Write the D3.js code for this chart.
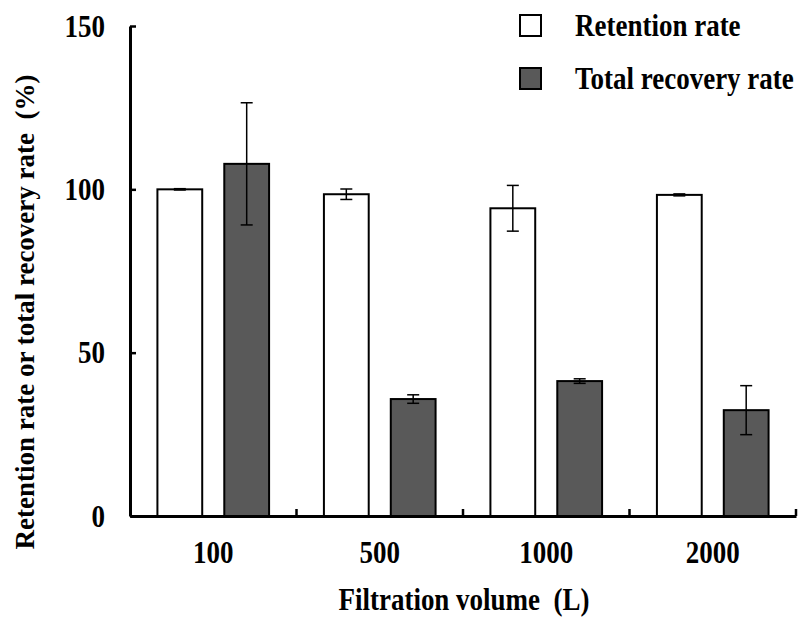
<!DOCTYPE html>
<html>
<head>
<meta charset="utf-8">
<script src="https://cdn.jsdelivr.net/npm/d3@7"></script>
<style>
  body { margin: 0; background: #fff; }
  text { font-family: "Times New Roman", "Liberation Serif", serif; font-weight: bold; white-space: pre; }
</style>
</head>
<body>
<div id="chart"></div>
<script>
// data
const volumes = ["100", "500", "1000", "2000"];
const seriesNames = ["Retention rate", "Total recovery rate"];
const retentionRate = [100, 98.5, 94.2, 98.3];
const retentionErr = [0.2, 1.6, 7.0, 0.3];
const recoveryRate = [107.8, 35.8, 41.3, 32.4];
const recoveryErr = [18.7, 1.3, 0.7, 7.5];
const yTicks = [0, 50, 100, 150];

const W = 808, H = 619;
const margin = { top: 26, right: 12, bottom: 103, left: 130 };
const colors = ["#ffffff", "#595959"];
const stretch = "scale(1,1.15)"; // reference type is a bit taller than normal

const svg = d3.select("#chart").append("svg")
  .attr("width", W)
  .attr("height", H);

const x = d3.scaleBand()
  .domain(volumes)
  .range([margin.left, 796])
  .padding(0);

const xSub = d3.scaleBand()
  .domain(seriesNames)
  .range([0, x.bandwidth()])
  .paddingInner(0.33)
  .paddingOuter(0.41);

const y = d3.scaleLinear()
  .domain([0, 150])
  .range([H - margin.bottom, margin.top]);

const rows = volumes.map((v, i) => ({
  volume: v,
  values: [
    { key: seriesNames[0], value: retentionRate[i], err: retentionErr[i] },
    { key: seriesNames[1], value: recoveryRate[i], err: recoveryErr[i] },
  ],
}));

// bars
const groups = svg.selectAll(".group")
  .data(rows)
  .enter()
  .append("g")
  .attr("class", "group")
  .attr("transform", (d) => `translate(${x(d.volume)},0)`);

groups.selectAll("rect")
  .data((d) => d.values)
  .enter()
  .append("rect")
  .attr("x", (d) => xSub(d.key))
  .attr("y", (d) => y(d.value))
  .attr("width", xSub.bandwidth())
  .attr("height", (d) => y(0) - y(d.value))
  .attr("fill", (d, i) => colors[i])
  .attr("stroke", "#000")
  .attr("stroke-width", 2);

// error bars
const err = groups.selectAll(".err")
  .data((d) => d.values)
  .enter()
  .append("g")
  .attr("class", "err")
  .attr("transform", (d) => `translate(${xSub(d.key) + xSub.bandwidth() / 2},0)`)
  .attr("stroke", "#000")
  .attr("stroke-width", 1.5);

err.append("line")
  .attr("y1", (d) => y(d.value + d.err))
  .attr("y2", (d) => y(d.value - d.err));
err.append("line")
  .attr("x1", -6).attr("x2", 6)
  .attr("y1", (d) => y(d.value + d.err))
  .attr("y2", (d) => y(d.value + d.err));
err.append("line")
  .attr("x1", -6).attr("x2", 6)
  .attr("y1", (d) => y(d.value - d.err))
  .attr("y2", (d) => y(d.value - d.err));

// y axis, ticks pointing inward
const yAxis = svg.append("g")
  .attr("transform", `translate(${margin.left},0)`)
  .call(d3.axisLeft(y).tickValues(yTicks).tickSize(-6).tickSizeOuter(0));
yAxis.select(".domain").attr("stroke-width", 3);
yAxis.selectAll(".tick line").attr("stroke-width", 2.5);
yAxis.selectAll(".tick text")
  .attr("x", 0)
  .attr("dy", null)
  .attr("transform", `translate(-25,10) ${stretch}`)
  .attr("font-size", 27)
  .attr("font-family", null)
  .attr("fill", "#000");

// x axis, category labels + boundary ticks
const xAxis = svg.append("g")
  .attr("transform", `translate(0,${y(0)})`)
  .call(d3.axisBottom(x).tickSize(0).tickSizeOuter(0));
xAxis.select(".domain").attr("stroke-width", 3);
xAxis.selectAll(".tick text")
  .attr("y", 0)
  .attr("dy", null)
  .attr("transform", `translate(0,47) ${stretch}`)
  .attr("font-size", 27)
  .attr("font-family", null)
  .attr("fill", "#000");

svg.append("g")
  .selectAll("line")
  .data(volumes)
  .enter()
  .append("line")
  .attr("x1", (d) => x(d) + x.bandwidth())
  .attr("x2", (d) => x(d) + x.bandwidth())
  .attr("y1", y(0))
  .attr("y2", y(0) - 7)
  .attr("stroke", "#000")
  .attr("stroke-width", 2.5);

// axis titles
svg.append("text")
  .attr("transform", `translate(464,610) ${stretch}`)
  .attr("text-anchor", "middle")
  .attr("font-size", 27)
  .text("Filtration volume  (L)");

svg.append("text")
  .attr("transform", "translate(34,312) rotate(-90)")
  .attr("text-anchor", "middle")
  .attr("font-size", 27)
  .text("Retention rate or total recovery rate  (%)");

// legend
const legend = svg.selectAll(".legend")
  .data(seriesNames)
  .enter()
  .append("g")
  .attr("class", "legend")
  .attr("transform", (d, i) => `translate(520,${15 + i * 53})`);

legend.append("rect")
  .attr("width", 21)
  .attr("height", 21)
  .attr("fill", (d, i) => colors[i])
  .attr("stroke", "#000")
  .attr("stroke-width", 2);

legend.append("text")
  .attr("transform", `translate(55,21) ${stretch}`)
  .attr("font-size", 27)
  .text((d) => d);
</script>
</body>
</html>
